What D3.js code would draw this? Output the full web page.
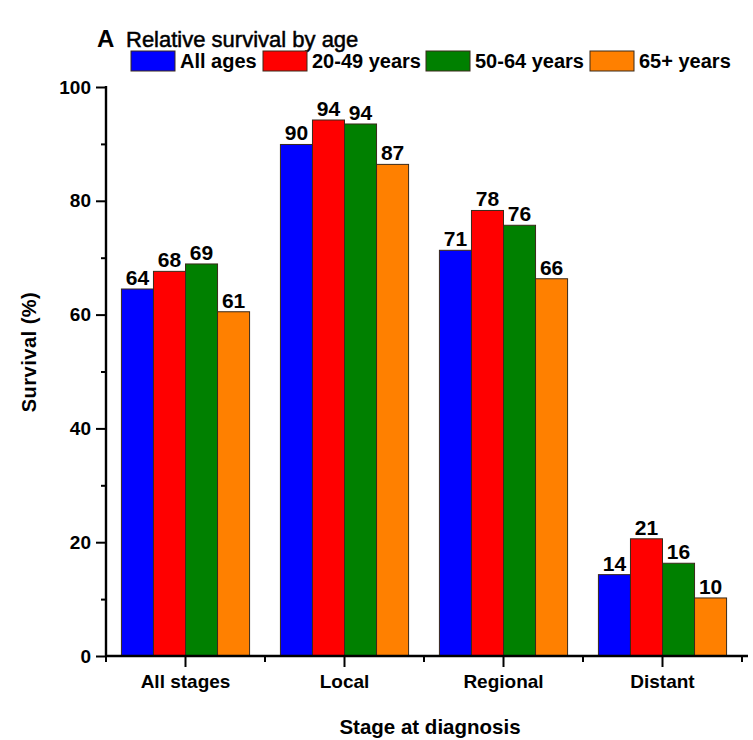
<!DOCTYPE html>
<html>
<head>
<meta charset="utf-8">
<script src="https://cdn.jsdelivr.net/npm/d3@7"></script>
<style>
  html, body { margin: 0; padding: 0; background: #fff; }
  svg { display: block; font-family: "Liberation Sans", Arial, sans-serif; }
</style>
</head>
<body>
<div id="chart"></div>
<script>
const categories = ["All stages", "Local", "Regional", "Distant"];
const seriesNames = ["All ages", "20-49 years", "50-64 years", "65+ years"];
const allAges   = [64.5, 89.9, 71.3, 14.3];
const age20to49 = [67.6, 94.2, 78.3, 20.6];
const age50to64 = [68.9, 93.5, 75.7, 16.3];
const age65plus = [60.5, 86.4, 66.3, 10.2];
const labelsAllAges   = ["64", "90", "71", "14"];
const labels20to49    = ["68", "94", "78", "21"];
const labels50to64    = ["69", "94", "76", "16"];
const labels65plus    = ["61", "87", "66", "10"];
const yTickValues = [0, 20, 40, 60, 80, 100];
const yMinorTicks = [10, 30, 50, 70, 90];
const colors = ["#0000FF", "#FF0000", "#008000", "#FF8000"];

const seriesValues = [allAges, age20to49, age50to64, age65plus];
const seriesLabels = [labelsAllAges, labels20to49, labels50to64, labels65plus];

const W = 753, H = 740;
const FONT = "Liberation Sans, Arial, sans-serif";
const svg = d3.select("#chart").append("svg").attr("width", W).attr("height", H);

const x0 = d3.scaleBand().domain(categories).range([106, 742]).paddingInner(0).paddingOuter(0);
const groupW = x0.bandwidth() * 0.806;
const x1 = d3.scaleBand().domain(seriesNames).range([0, groupW]).padding(0);
const y = d3.scaleLinear().domain([0, 100]).range([656, 87]);

// bars
seriesNames.forEach((s, si) => {
  const g = svg.append("g");
  categories.forEach((c, ci) => {
    const bx = x0(c) + (x0.bandwidth() - groupW) / 2 + x1(s);
    const v = seriesValues[si][ci];
    g.append("rect")
      .attr("x", bx)
      .attr("y", y(v))
      .attr("width", x1.bandwidth())
      .attr("height", y(0) - y(v))
      .attr("fill", colors[si])
      .attr("stroke", "#3a2a1a")
      .attr("stroke-width", 1);
    g.append("text")
      .attr("x", bx + x1.bandwidth() / 2)
      .attr("y", y(v) - 4)
      .attr("text-anchor", "middle")
      .attr("font-size", 21)
      .attr("font-weight", "bold")
      .attr("fill", "#000")
      .text(seriesLabels[si][ci]);
  });
});

// y axis
const yAxis = d3.axisLeft(y).tickValues(yTickValues).tickSize(10).tickPadding(5);
const gy = svg.append("g").attr("transform", "translate(106,0)").call(yAxis);
gy.select(".domain").remove();
gy.selectAll(".tick line").attr("stroke", "#000").attr("stroke-width", 2);
gy.selectAll(".tick text").attr("font-size", 19).attr("font-weight", "bold")
  .attr("font-family", FONT).attr("fill", "#000");
const gyMinor = svg.append("g").attr("transform", "translate(106,0)")
  .call(d3.axisLeft(y).tickValues(yMinorTicks).tickSize(5).tickFormat(""));
gyMinor.select(".domain").remove();
gyMinor.selectAll(".tick line").attr("stroke", "#000").attr("stroke-width", 2);
svg.append("line").attr("x1", 106).attr("x2", 106).attr("y1", y(100) - 1).attr("y2", y(0) + 1)
  .attr("stroke", "#000").attr("stroke-width", 2.4);

// x axis
const xAxis = d3.axisBottom(x0).tickSize(11).tickPadding(8);
const gx = svg.append("g").attr("transform", "translate(0,656)").call(xAxis);
gx.select(".domain").remove();
gx.selectAll(".tick line").attr("stroke", "#000").attr("stroke-width", 2);
gx.selectAll(".tick text").attr("font-size", 19).attr("font-weight", "bold")
  .attr("font-family", FONT).attr("fill", "#000");
const boundaries = categories.map(c => x0(c)).concat([x0.range()[1]]);
svg.append("g").selectAll("line").data(boundaries).join("line")
  .attr("x1", d => d).attr("x2", d => d).attr("y1", 656).attr("y2", 662)
  .attr("stroke", "#000").attr("stroke-width", 2);
svg.append("line").attr("x1", 105).attr("x2", 748).attr("y1", 656).attr("y2", 656)
  .attr("stroke", "#000").attr("stroke-width", 2.4);

// axis titles
svg.append("text").attr("x", 430).attr("y", 734).attr("text-anchor", "middle")
  .attr("font-size", 20.5).attr("font-weight", "bold").text("Stage at diagnosis");
svg.append("text").attr("transform", "translate(36,352) rotate(-90)").attr("text-anchor", "middle")
  .attr("font-size", 20).attr("font-weight", "bold").attr("letter-spacing", "0.5").text("Survival (%)");

// title
svg.append("text").attr("x", 97).attr("y", 47).attr("font-size", 24).attr("font-weight", "bold").text("A");
svg.append("text").attr("x", 126).attr("y", 47).attr("font-size", 22)
  .attr("stroke", "#000").attr("stroke-width", 0.5).text("Relative survival by age");

// legend
const legendX = [131, 263, 426, 590];
seriesNames.forEach((s, i) => {
  svg.append("rect").attr("x", legendX[i]).attr("y", 51).attr("width", 44).attr("height", 20)
    .attr("fill", colors[i]).attr("stroke", "#3a2a1a").attr("stroke-width", 1);
  svg.append("text").attr("x", legendX[i] + 49).attr("y", 68).attr("font-size", 20)
    .attr("font-weight", "bold").text(s);
});
</script>
</body>
</html>
